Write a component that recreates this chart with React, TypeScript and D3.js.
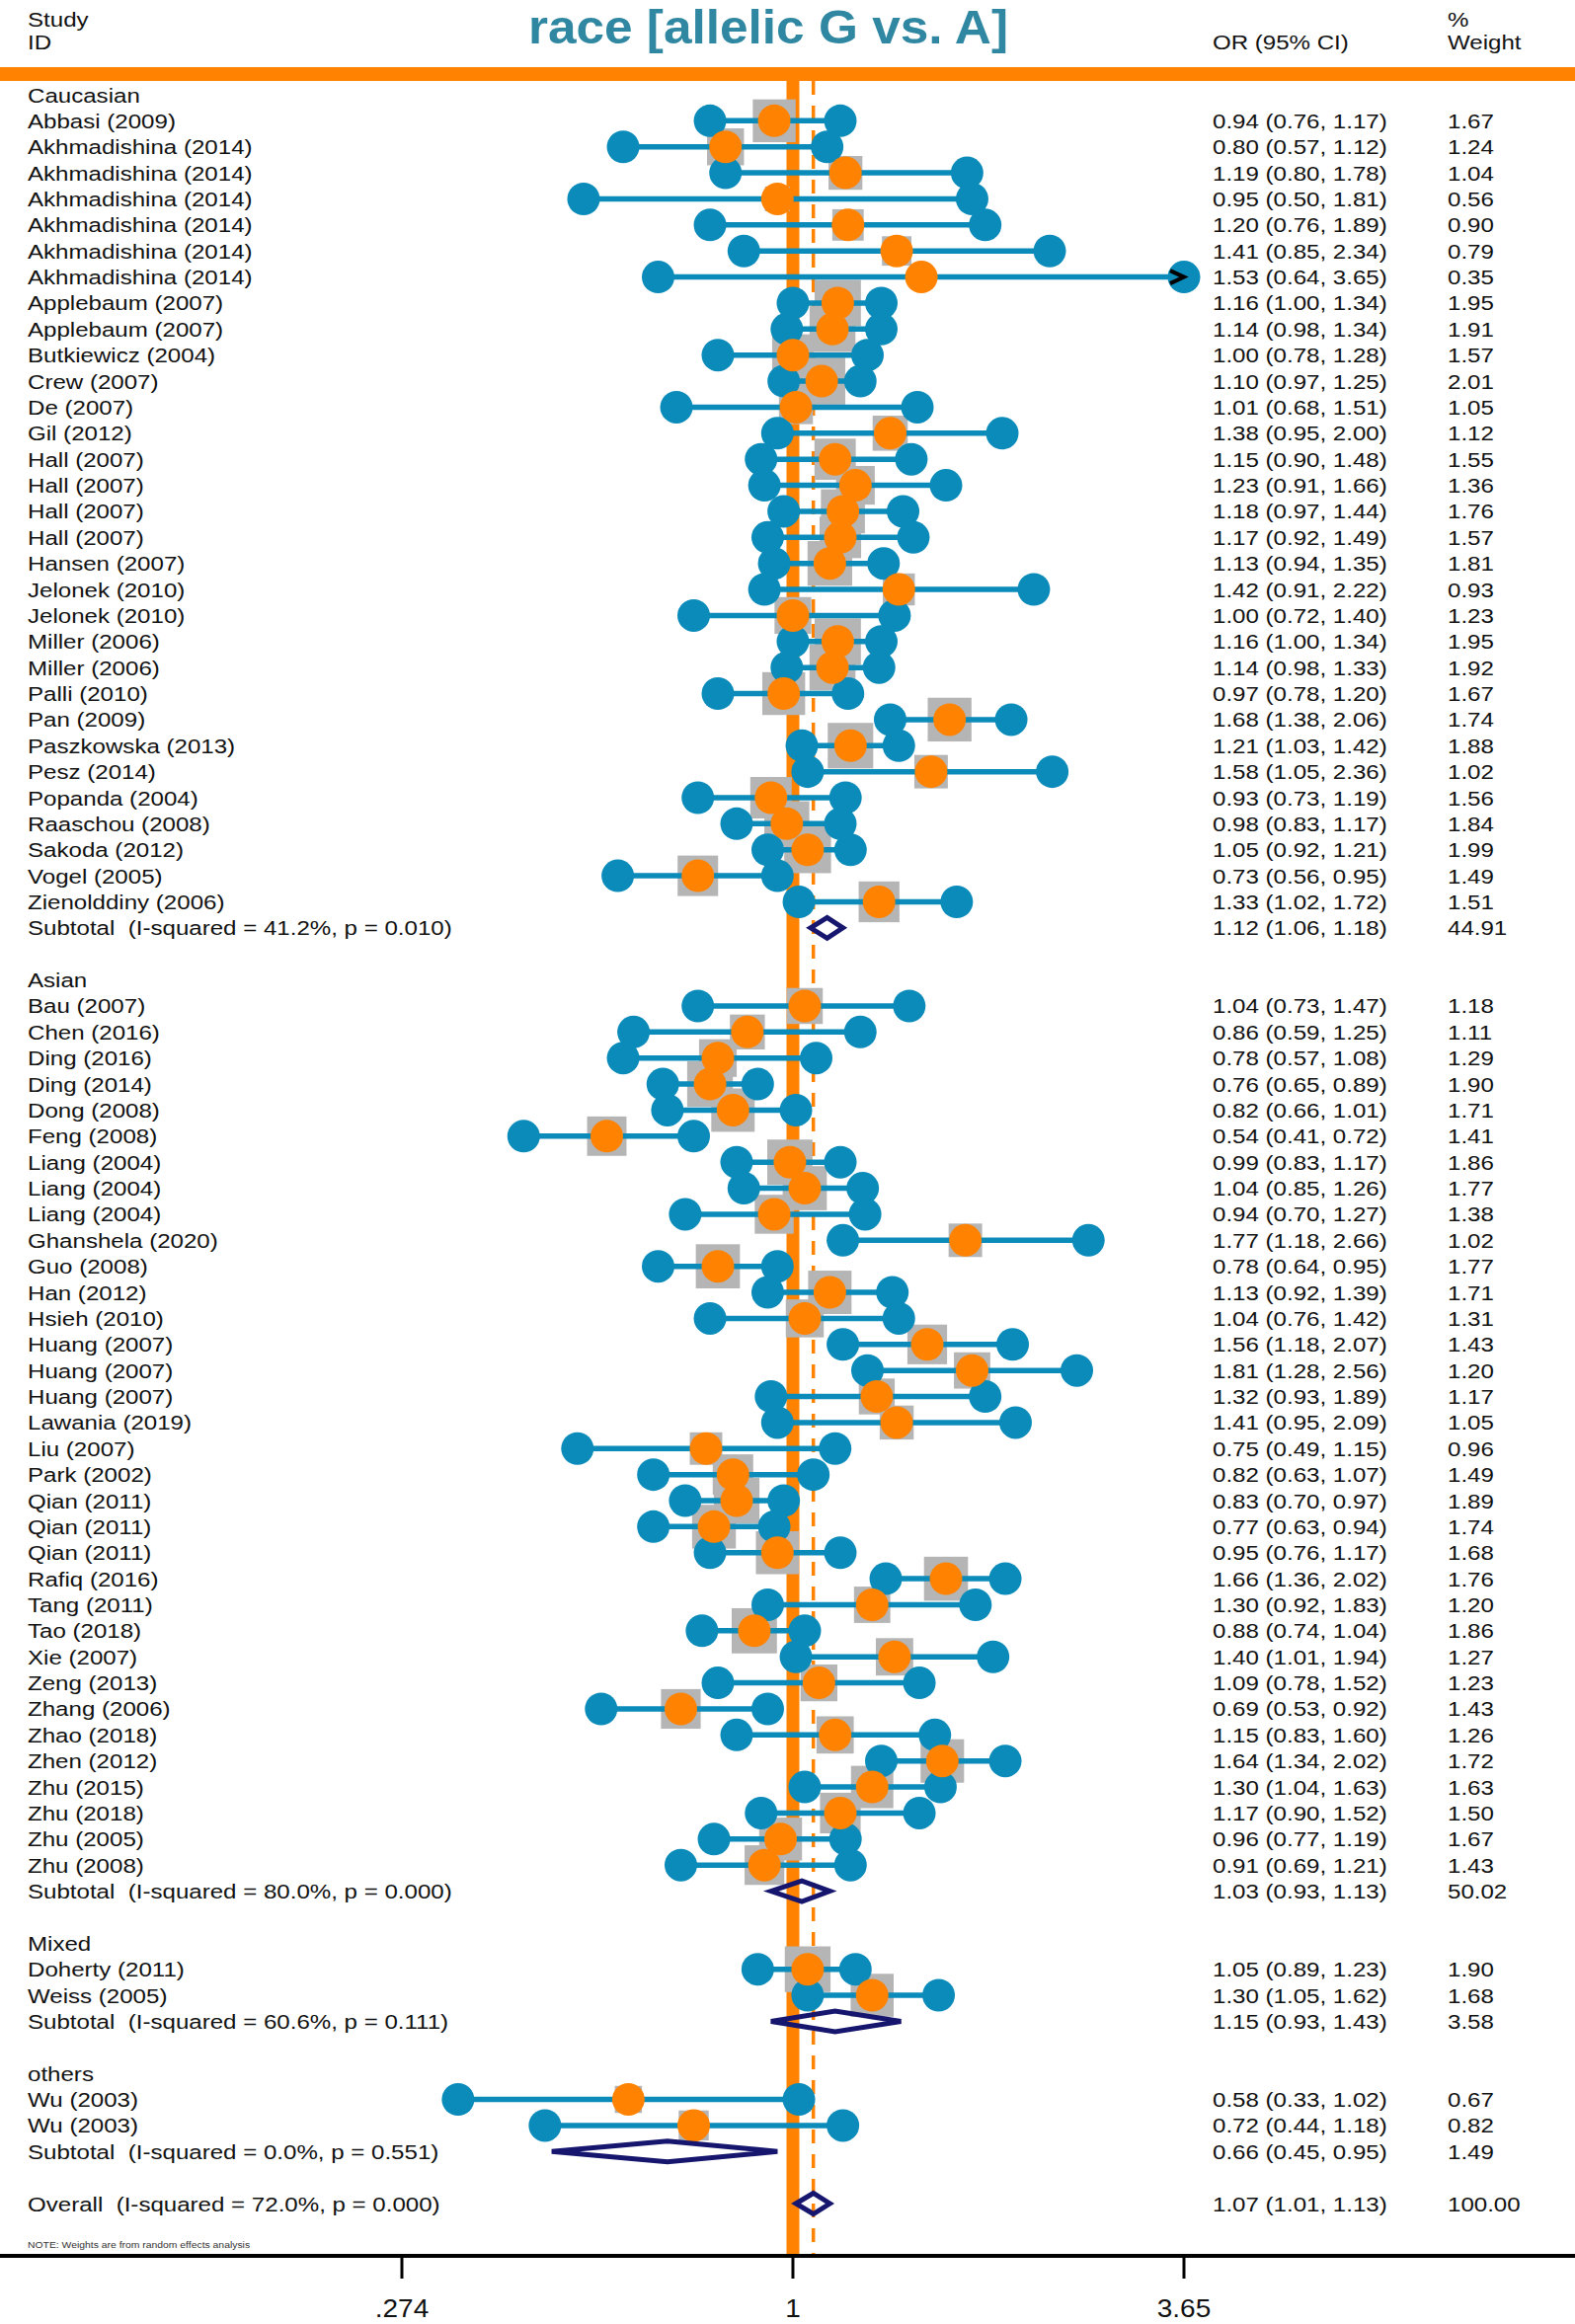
import React from "react";
import * as d3 from "d3";

type Study = [string, number, number, number, number];
type Sub = [string, number, number, number, number];

const caucasian: Study[] = [
  ["Abbasi (2009)", 0.94, 0.76, 1.17, 1.67],
  ["Akhmadishina (2014)", 0.8, 0.57, 1.12, 1.24],
  ["Akhmadishina (2014)", 1.19, 0.8, 1.78, 1.04],
  ["Akhmadishina (2014)", 0.95, 0.5, 1.81, 0.56],
  ["Akhmadishina (2014)", 1.2, 0.76, 1.89, 0.9],
  ["Akhmadishina (2014)", 1.41, 0.85, 2.34, 0.79],
  ["Akhmadishina (2014)", 1.53, 0.64, 3.65, 0.35],
  ["Applebaum (2007)", 1.16, 1.0, 1.34, 1.95],
  ["Applebaum (2007)", 1.14, 0.98, 1.34, 1.91],
  ["Butkiewicz (2004)", 1.0, 0.78, 1.28, 1.57],
  ["Crew (2007)", 1.1, 0.97, 1.25, 2.01],
  ["De (2007)", 1.01, 0.68, 1.51, 1.05],
  ["Gil (2012)", 1.38, 0.95, 2.0, 1.12],
  ["Hall (2007)", 1.15, 0.9, 1.48, 1.55],
  ["Hall (2007)", 1.23, 0.91, 1.66, 1.36],
  ["Hall (2007)", 1.18, 0.97, 1.44, 1.76],
  ["Hall (2007)", 1.17, 0.92, 1.49, 1.57],
  ["Hansen (2007)", 1.13, 0.94, 1.35, 1.81],
  ["Jelonek (2010)", 1.42, 0.91, 2.22, 0.93],
  ["Jelonek (2010)", 1.0, 0.72, 1.4, 1.23],
  ["Miller (2006)", 1.16, 1.0, 1.34, 1.95],
  ["Miller (2006)", 1.14, 0.98, 1.33, 1.92],
  ["Palli (2010)", 0.97, 0.78, 1.2, 1.67],
  ["Pan (2009)", 1.68, 1.38, 2.06, 1.74],
  ["Paszkowska (2013)", 1.21, 1.03, 1.42, 1.88],
  ["Pesz (2014)", 1.58, 1.05, 2.36, 1.02],
  ["Popanda (2004)", 0.93, 0.73, 1.19, 1.56],
  ["Raaschou (2008)", 0.98, 0.83, 1.17, 1.84],
  ["Sakoda (2012)", 1.05, 0.92, 1.21, 1.99],
  ["Vogel (2005)", 0.73, 0.56, 0.95, 1.49],
  ["Zienolddiny (2006)", 1.33, 1.02, 1.72, 1.51],
];
const caucasianSub: Sub = ["Subtotal  (I-squared = 41.2%, p = 0.010)", 1.12, 1.06, 1.18, 44.91];

const asian: Study[] = [
  ["Bau (2007)", 1.04, 0.73, 1.47, 1.18],
  ["Chen (2016)", 0.86, 0.59, 1.25, 1.11],
  ["Ding (2016)", 0.78, 0.57, 1.08, 1.29],
  ["Ding (2014)", 0.76, 0.65, 0.89, 1.9],
  ["Dong (2008)", 0.82, 0.66, 1.01, 1.71],
  ["Feng (2008)", 0.54, 0.41, 0.72, 1.41],
  ["Liang (2004)", 0.99, 0.83, 1.17, 1.86],
  ["Liang (2004)", 1.04, 0.85, 1.26, 1.77],
  ["Liang (2004)", 0.94, 0.7, 1.27, 1.38],
  ["Ghanshela (2020)", 1.77, 1.18, 2.66, 1.02],
  ["Guo (2008)", 0.78, 0.64, 0.95, 1.77],
  ["Han (2012)", 1.13, 0.92, 1.39, 1.71],
  ["Hsieh (2010)", 1.04, 0.76, 1.42, 1.31],
  ["Huang (2007)", 1.56, 1.18, 2.07, 1.43],
  ["Huang (2007)", 1.81, 1.28, 2.56, 1.2],
  ["Huang (2007)", 1.32, 0.93, 1.89, 1.17],
  ["Lawania (2019)", 1.41, 0.95, 2.09, 1.05],
  ["Liu (2007)", 0.75, 0.49, 1.15, 0.96],
  ["Park (2002)", 0.82, 0.63, 1.07, 1.49],
  ["Qian (2011)", 0.83, 0.7, 0.97, 1.89],
  ["Qian (2011)", 0.77, 0.63, 0.94, 1.74],
  ["Qian (2011)", 0.95, 0.76, 1.17, 1.68],
  ["Rafiq (2016)", 1.66, 1.36, 2.02, 1.76],
  ["Tang (2011)", 1.3, 0.92, 1.83, 1.2],
  ["Tao (2018)", 0.88, 0.74, 1.04, 1.86],
  ["Xie (2007)", 1.4, 1.01, 1.94, 1.27],
  ["Zeng (2013)", 1.09, 0.78, 1.52, 1.23],
  ["Zhang (2006)", 0.69, 0.53, 0.92, 1.43],
  ["Zhao (2018)", 1.15, 0.83, 1.6, 1.26],
  ["Zhen (2012)", 1.64, 1.34, 2.02, 1.72],
  ["Zhu (2015)", 1.3, 1.04, 1.63, 1.63],
  ["Zhu (2018)", 1.17, 0.9, 1.52, 1.5],
  ["Zhu (2005)", 0.96, 0.77, 1.19, 1.67],
  ["Zhu (2008)", 0.91, 0.69, 1.21, 1.43],
];
const asianSub: Sub = ["Subtotal  (I-squared = 80.0%, p = 0.000)", 1.03, 0.93, 1.13, 50.02];

const mixed: Study[] = [
  ["Doherty (2011)", 1.05, 0.89, 1.23, 1.9],
  ["Weiss (2005)", 1.3, 1.05, 1.62, 1.68],
];
const mixedSub: Sub = ["Subtotal  (I-squared = 60.6%, p = 0.111)", 1.15, 0.93, 1.43, 3.58];

const others: Study[] = [
  ["Wu (2003)", 0.58, 0.33, 1.02, 0.67],
  ["Wu (2003)", 0.72, 0.44, 1.18, 0.82],
];
const othersSub: Sub = ["Subtotal  (I-squared = 0.0%, p = 0.551)", 0.66, 0.45, 0.95, 1.49];

const overall: Sub = ["Overall  (I-squared = 72.0%, p = 0.000)", 1.07, 1.01, 1.13, 100.0];

const groupNames = ["Caucasian", "Asian", "Mixed", "others"];
const groupStudies = [caucasian, asian, mixed, others];
const groupSubs = [caucasianSub, asianSub, mixedSub, othersSub];

const axisTicks = [0.274, 1, 3.65];
const axisTickLabels = [".274", "1", "3.65"];
const title = "race [allelic G vs. A]";
const note = "NOTE: Weights are from random effects analysis";

const W = 1595;
const H = 2354;
const BLUE = "#0A8BBA";
const ORANGE = "#FF8200";
const GRAY = "#B5B5B5";
const NAVY = "#16166E";
const TEAL = "#2F87A2";
const FONT = "'Liberation Sans', Arial, Helvetica, sans-serif";

const f2 = d3.format(".2f");

type Row =
  | { kind: "header"; i: number; label: string }
  | { kind: "study"; i: number; d: Study }
  | { kind: "sub"; i: number; d: Sub };

function buildRows(): Row[] {
  const rows: Row[] = [];
  let i = 0;
  groupNames.forEach((g, gi) => {
    rows.push({ kind: "header", i: i++, label: g });
    groupStudies[gi].forEach((d) => rows.push({ kind: "study", i: i++, d }));
    rows.push({ kind: "sub", i: i++, d: groupSubs[gi] });
    i++;
  });
  rows.push({ kind: "sub", i: i, d: overall });
  return rows;
}

function T(props: {
  x: number;
  y: number;
  text: string;
  size?: number;
  sx?: number;
  anchor?: string;
  weight?: string | number;
  fill?: string;
}) {
  const { x, y, text, size = 20.5, sx = 1.175, anchor = "start", weight = "normal", fill = "#111" } = props;
  return (
    <text
      transform={`translate(${x},${y}) scale(${sx},1)`}
      fontSize={size}
      fontFamily={FONT}
      textAnchor={anchor}
      fontWeight={weight}
      fill={fill}
      style={{ whiteSpace: "pre" }}
    >
      {text}
    </text>
  );
}

export default function App() {
  const rows = buildRows();
  const lastIndex = rows[rows.length - 1].i;
  const x = d3.scaleLog().domain([0.274, 3.65]).range([407, 1199]);
  const y = d3.scaleLinear().domain([0, lastIndex]).range([96, 2232]);
  const [dMin, dMax] = x.domain();
  const clampX = (v: number) => x(Math.max(dMin, Math.min(dMax, v)));
  const boxK = 33.6;
  const axisY = 2285;
  const topY = 82;
  const textDy = 7.5;

  const studies = rows.filter((r) => r.kind === "study") as { kind: "study"; i: number; d: Study }[];
  const subs = rows.filter((r) => r.kind === "sub") as { kind: "sub"; i: number; d: Sub }[];
  const R = 16.5;
  const diaH = 10.5;

  return (
    <svg
      width={W}
      height={H}
      viewBox={`0 0 ${W} ${H}`}
      style={{ position: "absolute", left: 0, top: 0, background: "#fff" }}
    >
      <rect x={0} y={0} width={W} height={H} fill="#fff" />
      {/* header */}
      <T x={28} y={27} text="Study" />
      <T x={28} y={50} text="ID" />
      <T x={1228} y={50} text="OR (95% CI)" />
      <T x={1466} y={27} text="%" />
      <T x={1466} y={50} text="Weight" />
      <T x={778} y={44} text={title} size={48} sx={1.07} anchor="middle" weight="bold" fill={TEAL} />
      <rect x={0} y={68} width={W} height={14} fill={ORANGE} />

      {/* reference lines */}
      <line x1={x(1)} x2={x(1)} y1={topY} y2={axisY} stroke={ORANGE} strokeWidth={13} />
      <line
        x1={x(overall[1])}
        x2={x(overall[1])}
        y1={topY}
        y2={axisY}
        stroke={ORANGE}
        strokeWidth={3.5}
        strokeDasharray="14 11"
      />

      {/* boxes */}
      {studies.map((r, k) => {
        const s = boxK * Math.sqrt(r.d[4]);
        return <rect key={"b" + k} x={x(r.d[1]) - s / 2} y={y(r.i) - s / 2} width={s} height={s} fill={GRAY} />;
      })}
      {/* CI lines */}
      {studies.map((r, k) => (
        <line
          key={"l" + k}
          x1={clampX(r.d[2])}
          x2={clampX(r.d[3])}
          y1={y(r.i)}
          y2={y(r.i)}
          stroke={BLUE}
          strokeWidth={5.5}
        />
      ))}
      {/* CI end circles */}
      {studies.map((r, k) => (
        <g key={"c" + k}>
          <circle cx={clampX(r.d[2])} cy={y(r.i)} r={R} fill={BLUE} />
          <circle cx={clampX(r.d[3])} cy={y(r.i)} r={R} fill={BLUE} />
        </g>
      ))}
      {/* point estimates */}
      {studies.map((r, k) => (
        <circle key={"p" + k} cx={x(r.d[1])} cy={y(r.i)} r={R} fill={ORANGE} />
      ))}
      {/* clipped arrows */}
      {studies
        .filter((r) => r.d[3] >= dMax)
        .map((r, k) => {
          const xe = clampX(r.d[3]);
          const yy = y(r.i);
          return (
            <path
              key={"a" + k}
              d={`M${xe - 14},${yy - 6.5}L${xe},${yy}L${xe - 14},${yy + 6.5}`}
              fill="none"
              stroke="#000"
              strokeWidth={4}
            />
          );
        })}
      {/* diamonds */}
      {subs.map((r, k) => {
        const yy = y(r.i);
        const [, m, lo, hi] = r.d;
        return (
          <path
            key={"d" + k}
            d={`M${x(lo)},${yy}L${x(m)},${yy - diaH}L${x(hi)},${yy}L${x(m)},${yy + diaH}Z`}
            fill="none"
            stroke={NAVY}
            strokeWidth={5}
            strokeLinejoin="miter"
          />
        );
      })}

      {/* text rows */}
      {rows.map((r, k) => {
        const yy = y(r.i) + textDy;
        if (r.kind === "header") return <T key={"t" + k} x={28} y={yy} text={r.label} />;
        const d = r.d;
        return (
          <g key={"t" + k}>
            <T x={28} y={yy} text={d[0]} />
            <T x={1228} y={yy} text={`${f2(d[1])} (${f2(d[2])}, ${f2(d[3])})`} />
            <T x={1466} y={yy} text={f2(d[4])} />
          </g>
        );
      })}

      <T x={28} y={2277} text={note} size={9.2} sx={1.13} fill="#333" />

      {/* axis */}
      <line x1={0} x2={W} y1={axisY} y2={axisY} stroke="#000" strokeWidth={4} />
      {axisTicks.map((t, k) => (
        <g key={"tk" + k}>
          <line x1={x(t)} x2={x(t)} y1={axisY} y2={axisY + 23} stroke="#000" strokeWidth={3} />
          <T x={x(t)} y={2347} text={axisTickLabels[k]} size={25} sx={1.12} anchor="middle" />
        </g>
      ))}
    </svg>
  );
}
